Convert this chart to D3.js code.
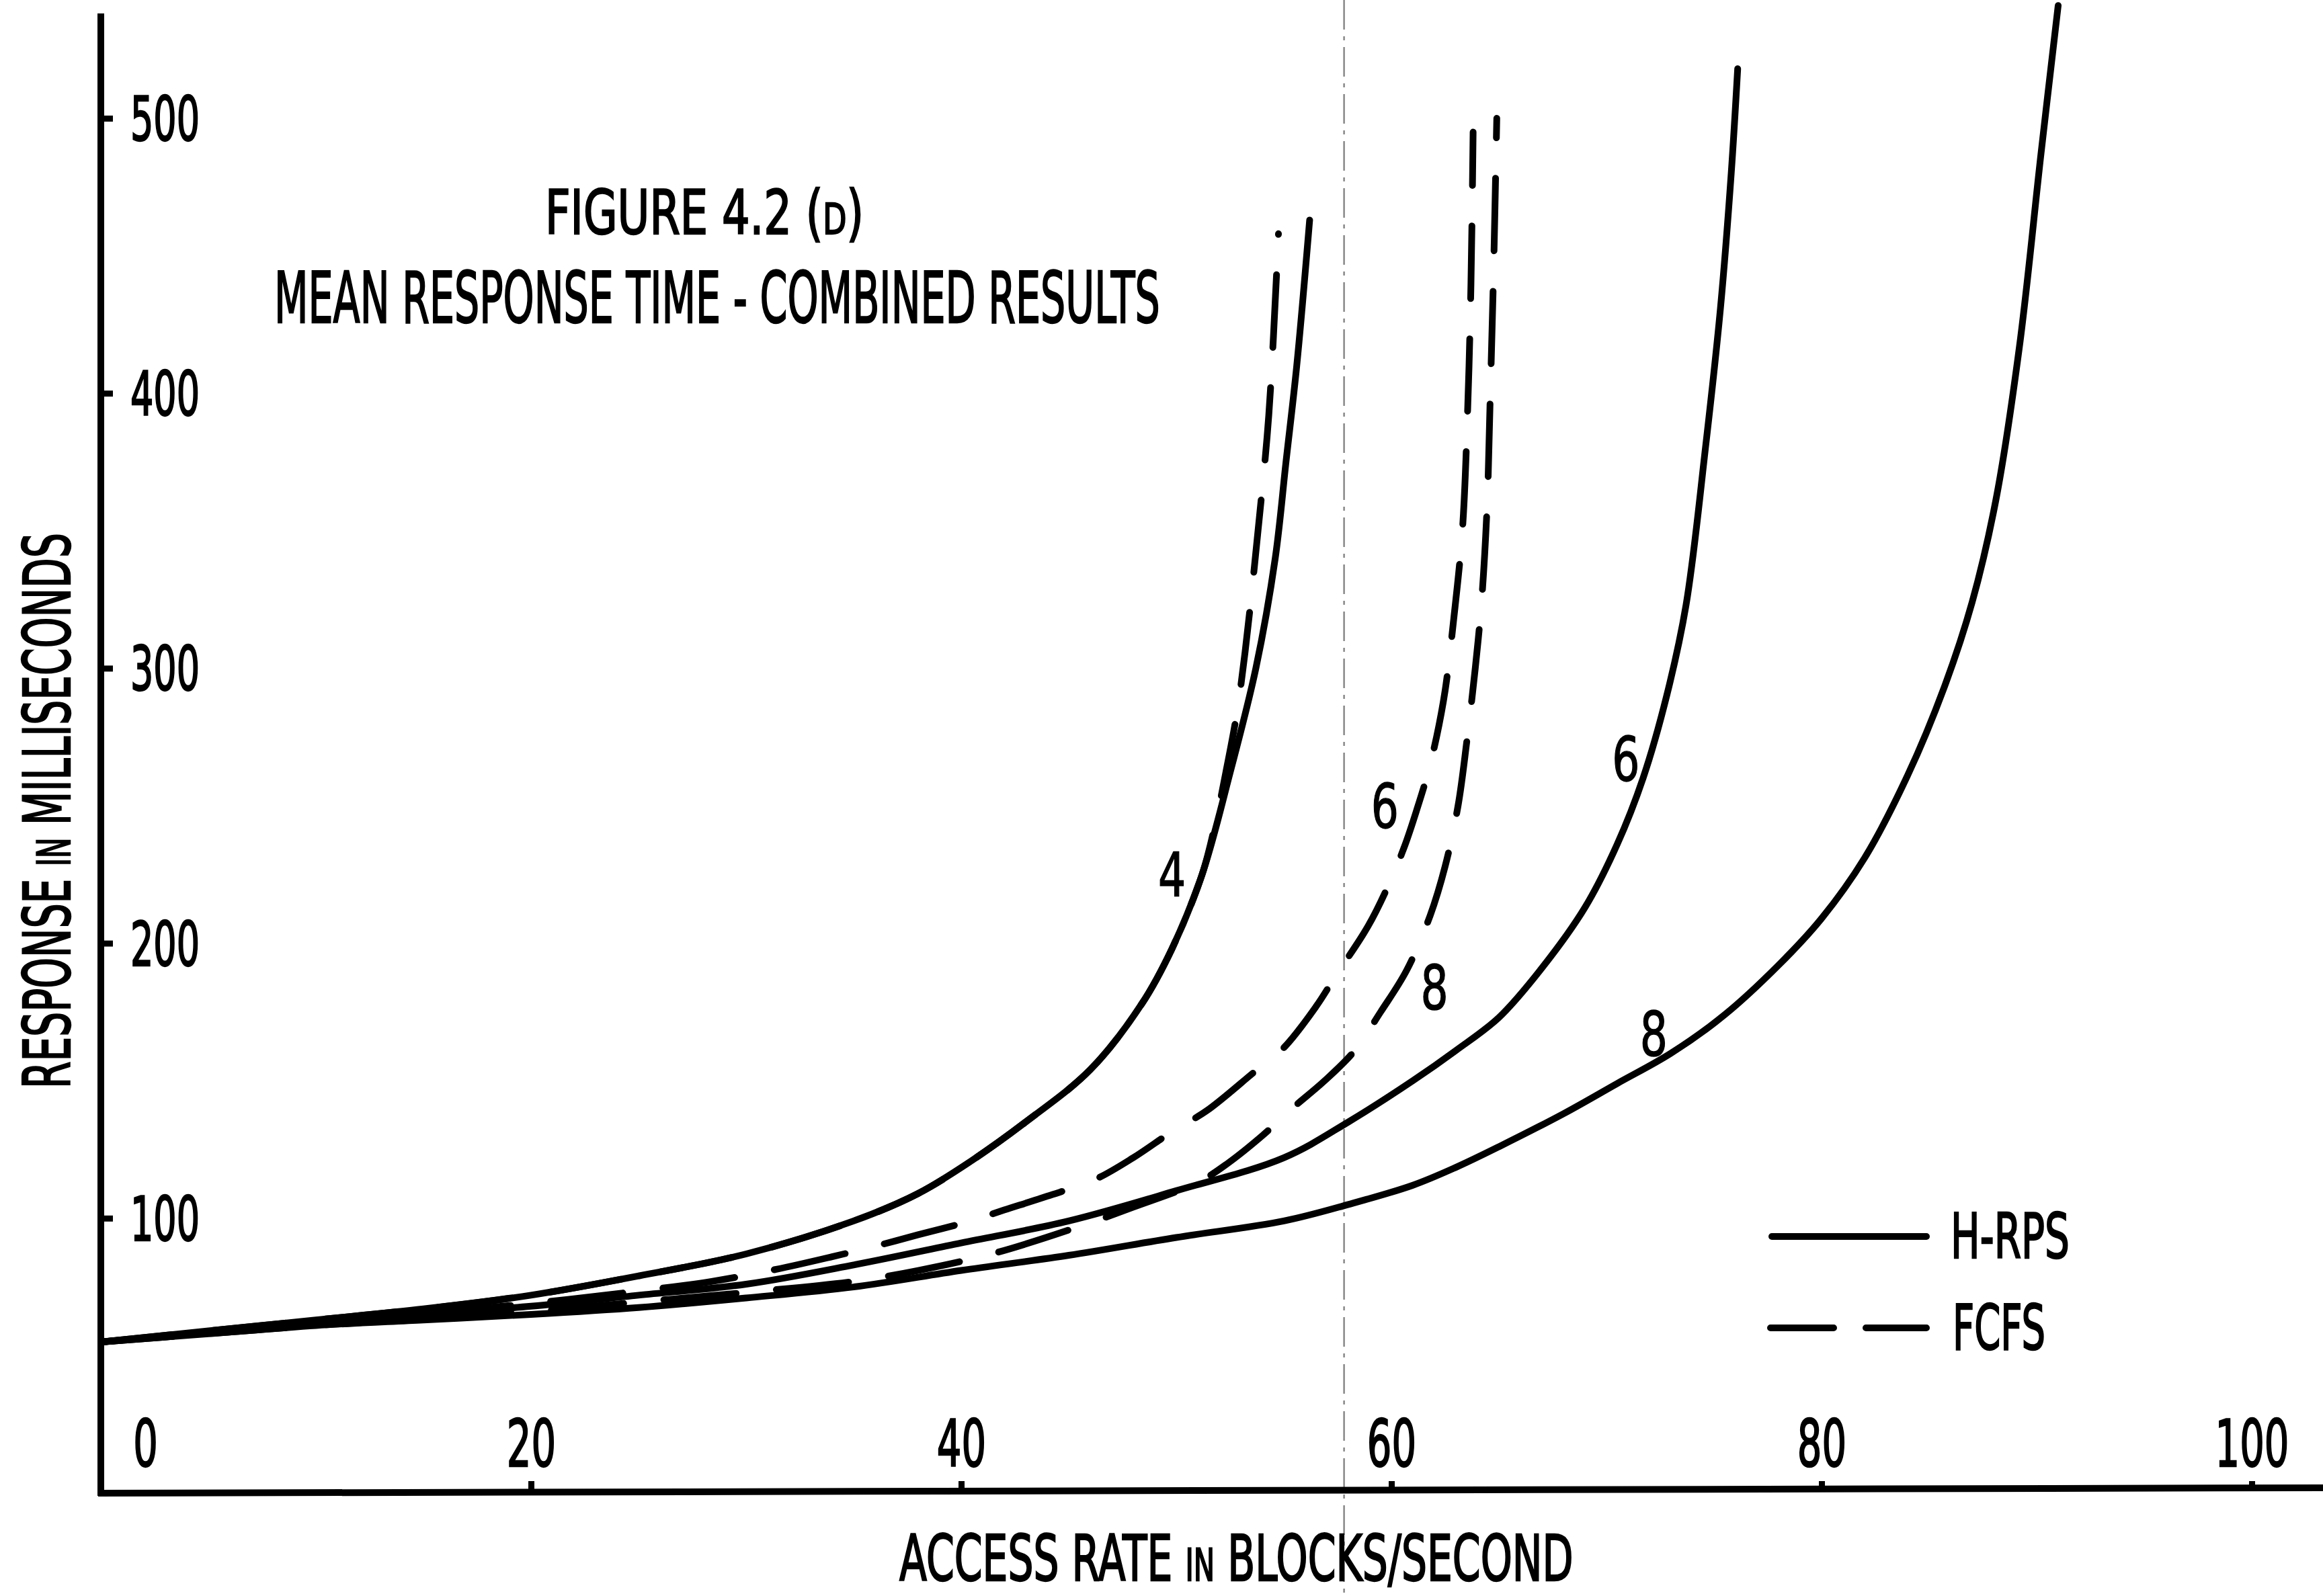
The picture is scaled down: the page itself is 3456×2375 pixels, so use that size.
<!DOCTYPE html>
<html>
<head>
<meta charset="utf-8">
<script src="https://cdn.jsdelivr.net/npm/d3@7"></script>
<style>
  html, body { margin: 0; padding: 0; background: #fff; }
  svg { display: block; background: #fff; }
  text { font-family: "DejaVu Sans", sans-serif; fill: #000; stroke: #000; stroke-width: 2.5px; }
</style>
</head>
<body>
<svg id="chart"></svg>
<script>
const W = 3456, H = 2375;

// axis ticks
const xTicks = [0, 20, 40, 60, 80, 100];
const yTicks = [100, 200, 300, 400, 500];

// series: [access rate, mean response ms]
const hrps4 = [[0,55],[5,59],[10,63],[15,67],[20,72],[25,79],[30,87],[35,99],[38,109],[40.5,121],[43,135],[46,154],[48.4,178],[49.8,198],[51.2,225],[52.5,262],[53.7,300],[54.6,340],[55.1,375],[55.6,410],[56.2,463]];
const fcfs4 = [[0,55],[5,59],[10,63],[15,67],[20,72],[25,79],[30,87],[35,99],[38,109],[40.5,121],[43,135],[46,154],[48.4,178],[49.8,198],[51.2,225],[51.8,243],[52.3,262],[52.8,283],[53.2,306],[53.8,350],[54.3,392],[54.75,458]];
const hrps6 = [[0,55],[5,58.5],[10,62],[15,65],[20,68],[25,72],[30,76],[35,83],[40,91],[45,99],[50,110],[55,122],[58,135],[61,150],[63,161],[65,173],[67,191],[69,213],[70.5,236],[71.7,260],[72.8,290],[73.7,323],[74.6,380],[75.3,431],[75.8,480],[76.1,518]];
const fcfs6 = [[0,55],[5,58.5],[10,62],[15,65.5],[20,69],[25,73.5],[28.4,77],[31.4,81.4],[34,86],[36.1,90],[38,94],[40.3,98.7],[42,103],[44,108],[46.2,114],[48,122],[49.9,132],[51.4,139],[53.6,153],[55,162],[56.5,177],[57.4,188],[58.9,206],[59.8,220],[60.6,235],[61.2,249],[61.7,262],[62.1,275],[62.5,292],[62.9,318],[63.3,350],[63.55,395],[63.7,440],[63.8,495]];
const hrps8 = [[0,55],[5,58],[10,61],[15,63],[20,65],[25,67.5],[30,71],[35,75],[40,81],[45,86.5],[50,93],[55,99],[58,105],[61,112],[63,118.5],[65,126],[68,138],[70.5,149],[73,160],[75.5,174],[78,192],[80,209],[82,231],[84,261],[85.7,293],[87,324],[88.1,361],[89.2,417],[90.2,487],[91,541]];
const fcfs8 = [[0,55],[5,58],[10,61],[15,63.5],[20,66],[25,69.5],[30,73],[35,77],[38,81],[41.6,87.4],[45.5,97],[48,104],[51,113],[52.4,120],[54,130],[55.4,140],[56.9,150],[58.3,161],[59.5,175],[60.7,190],[61.8,210],[62.5,228],[63.1,250],[63.5,273],[63.9,300],[64.2,325],[64.45,359],[64.6,400],[64.75,444],[64.9,500]];

// curve numbers (bottom centre of the digit)
const labelText = ["4", "6", "8", "6", "8"];
const labelX = [49.8, 59.7, 62.0, 70.9, 72.2];
const labelY = [217, 242, 176, 259, 159];

const foldX = 57.8; // faint fold line in the scan

const svg = d3.select("#chart").attr("width", W).attr("height", H);

const x = d3.scaleLinear().domain([0, 100]).range([150, 3350]);
const y = d3.scaleLinear().domain([0, 500]).range([2222, 176]);

// fold line
svg.append("line")
  .attr("x1", x(foldX)).attr("x2", x(foldX))
  .attr("y1", 0).attr("y2", H)
  .attr("stroke", "#888").attr("stroke-width", 2.5)
  .attr("stroke-dasharray", "44 10 6 10");

// text squeezed horizontally to a target width
function fitText(parts, left, baseline, width, size, rotated) {
  const t = svg.append("text").attr("font-size", size);
  parts.forEach(([s, small]) =>
    t.append("tspan").attr("font-size", small ? size * 0.7 : size).text(s));
  const w = t.node().getComputedTextLength();
  const sx = width / w;
  t.attr("transform", rotated
    ? `translate(${left},${baseline}) rotate(-90) scale(${sx},1)`
    : `translate(${left},${baseline}) scale(${sx},1)`);
  return t;
}

// axes lines
svg.append("line")
  .attr("x1", x(0)).attr("x2", x(0))
  .attr("y1", 20).attr("y2", y(0) + 4)
  .attr("stroke", "#000").attr("stroke-width", 10);
svg.append("line")
  .attr("x1", x(0) - 4).attr("x2", W)
  .attr("y1", y(0)).attr("y2", y(0) - 8)
  .attr("stroke", "#000").attr("stroke-width", 10);

// y axis ticks + labels
const yAxis = svg.append("g")
  .attr("transform", `translate(${x(0)},0)`)
  .call(d3.axisRight(y).tickValues(yTicks).tickSize(18).tickPadding(26));
yAxis.select(".domain").remove();
yAxis.selectAll(".tick line").attr("stroke", "#000").attr("stroke-width", 9);
yAxis.selectAll(".tick text")
  .attr("font-size", 90)
  .attr("font-family", "DejaVu Sans, sans-serif")
  .attr("fill", "#000")
  .attr("dy", "0.36em")
  .each(function () {
    const t = d3.select(this), x0 = +t.attr("x");
    t.attr("transform", `translate(${x0},0) scale(0.6,1) translate(${-x0},0)`);
  });

// x axis ticks + labels (ticks point up, labels sit above the axis)
const xAxis = svg.append("g")
  .attr("transform", `translate(0,${y(0) - 4})`)
  .call(d3.axisTop(x).tickValues(xTicks).tickSize(14).tickPadding(22));
xAxis.select(".domain").remove();
xAxis.selectAll(".tick line").attr("stroke", "#000").attr("stroke-width", 9)
  .filter(d => d === 0).remove();
xAxis.selectAll(".tick text")
  .attr("font-size", 96)
  .attr("font-family", "DejaVu Sans, sans-serif")
  .attr("fill", "#000")
  .attr("transform", d => `translate(${d === 0 ? 66 : 0},0) scale(0.6,1)`);

// curves
const line = d3.line()
  .x(d => x(d[0]))
  .y(d => y(d[1]))
  .curve(d3.curveCatmullRom.alpha(0.5));

const series = [
  { data: hrps8, dashed: false },
  { data: hrps6, dashed: false },
  { data: hrps4, dashed: false },
  { data: fcfs8, dashed: true },
  { data: fcfs6, dashed: true },
  { data: fcfs4, dashed: true },
];

svg.append("g").selectAll("path")
  .data(series)
  .join("path")
  .attr("d", d => line(d.data))
  .attr("fill", "none")
  .attr("stroke", "#000")
  .attr("stroke-width", 10)
  .attr("stroke-linecap", "round")
  .attr("stroke-dasharray", d => d.dashed ? "108 60" : null);

// curve numbers
svg.append("g").selectAll("text")
  .data(labelText)
  .join("text")
  .attr("font-size", 90)
  .attr("text-anchor", "middle")
  .style("stroke-width", "1.5px")
  .attr("transform", (d, i) => `translate(${x(labelX[i])},${y(labelY[i])}) scale(0.72,1)`)
  .text(d => d);

// titles
fitText([["FIGURE 4.2 (", false], ["D", true], [")", false]], 811, 348, 474, 90);
fitText([["MEAN RESPONSE TIME - COMBINED RESULTS", false]], 408, 480, 1318, 106);

// axis titles
fitText([["RESPONSE ", false], ["IN", true], [" MILLISECONDS", false]], 104, 1620, 827, 97, true);
fitText([["ACCESS RATE ", false], ["IN", true], [" BLOCKS/SECOND", false]], 1338, 2352, 1003, 94);

// legend
svg.append("line")
  .attr("x1", 2636).attr("x2", 2866).attr("y1", 1840).attr("y2", 1840)
  .attr("stroke", "#000").attr("stroke-width", 10).attr("stroke-linecap", "round");
svg.append("line")
  .attr("x1", 2634).attr("x2", 2866).attr("y1", 1976).attr("y2", 1976)
  .attr("stroke", "#000").attr("stroke-width", 10).attr("stroke-linecap", "round")
  .attr("stroke-dasharray", "94 48");
fitText([["H-RPS", false]], 2902, 1872, 177, 92);
fitText([["FCFS", false]], 2905, 2008, 138, 92);
</script>
</body>
</html>
